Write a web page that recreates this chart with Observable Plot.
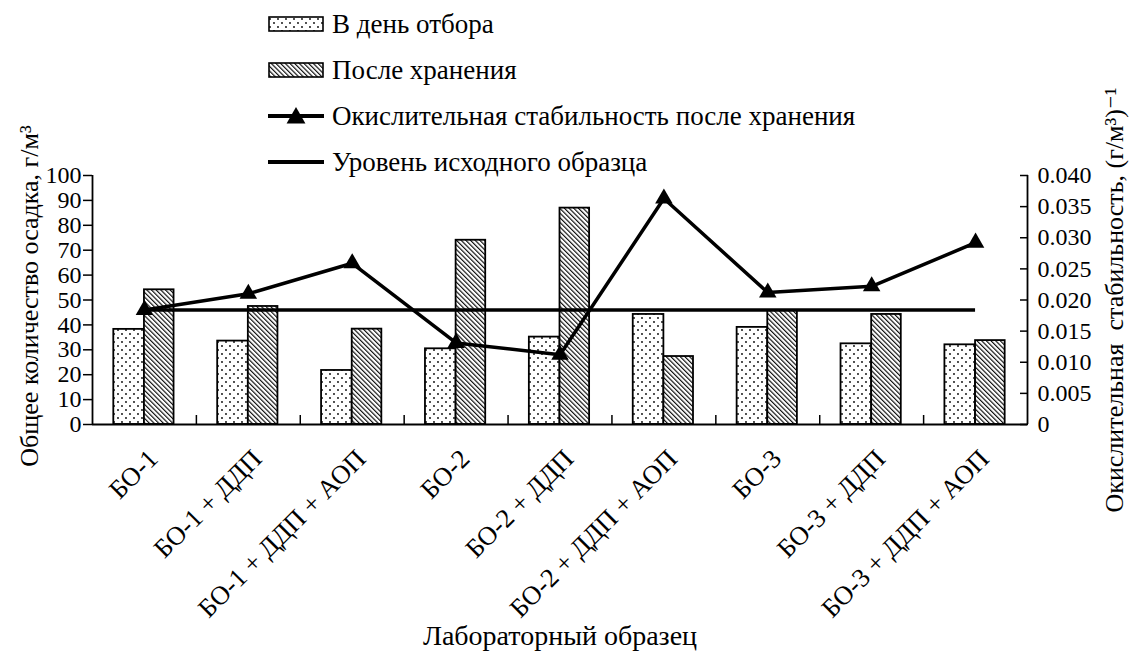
<!DOCTYPE html>
<html>
<head>
<meta charset="utf-8">
<script src="https://cdn.jsdelivr.net/npm/d3@7"></script>
<script src="https://cdn.jsdelivr.net/npm/@observablehq/plot@0.6"></script>
<style>
  html, body { margin: 0; padding: 0; background: white; }
  #wrap { width: 1131px; height: 652px; position: relative; overflow: hidden; font-family: "Liberation Serif", LiberationSerif, Tinos, "DejaVu Serif", serif; color: black; }
  #legend { position: relative; width: 1131px; height: 172px; }
  .row { position: absolute; left: 268px; height: 46px; display: flex; align-items: center; font-size: 27px; white-space: nowrap; }
  .row svg { flex: none; }
  .row span { margin-left: 8px; }
  #chart svg { display: block; }
  #chart svg text { white-space: pre; }
</style>
</head>
<body>
<svg width="0" height="0" style="position:absolute">
  <defs>
    <pattern id="dots" patternUnits="userSpaceOnUse" width="8" height="8">
      <rect width="8" height="8" fill="white"></rect>
      <circle cx="2" cy="2" r="0.9" fill="black"></circle>
      <circle cx="6" cy="6" r="0.9" fill="black"></circle>
    </pattern>
    <pattern id="hatch" patternUnits="userSpaceOnUse" width="3.3" height="10" patternTransform="rotate(-45)">
      <rect width="3.3" height="10" fill="white"></rect>
      <line x1="0.6" y1="0" x2="0.6" y2="10" stroke="black" stroke-width="1.1"></line>
    </pattern>
  </defs>
</svg>
<div id="wrap">
  <div id="legend"></div>
  <div id="chart"></div>
</div>
<script>
// ---- data ----
const categories = ["БО-1", "БО-1 + ДДП", "БО-1 + ДДП + АОП", "БО-2", "БО-2 + ДДП", "БО-2 + ДДП + АОП", "БО-3", "БО-3 + ДДП", "БО-3 + ДДП + АОП"];
const dayOfSampling = [38.2, 33.5, 21.7, 30.4, 35.1, 44.2, 39.0, 32.4, 32.0];
const afterStorage = [54.1, 47.4, 38.3, 74.0, 86.9, 27.3, 45.8, 44.2, 33.7];
const stability = [0.0184, 0.0210, 0.0259, 0.0131, 0.0112, 0.0363, 0.0212, 0.0222, 0.0292];
const initialLevel = 0.0184;
const leftTicks = [0, 10, 20, 30, 40, 50, 60, 70, 80, 90, 100];
const rightTicks = [0, 0.005, 0.010, 0.015, 0.020, 0.025, 0.030, 0.035, 0.040];
const rightTickLabels = ["0", "0.005", "0.010", "0.015", "0.020", "0.025", "0.030", "0.035", "0.040"];
const legendLabels = ["В день отбора", "После хранения", "Окислительная стабильность после хранения", "Уровень исходного образца"];
const yTitle = "Общее количество осадка, г/м³";
const y2Title = "Окислительная  стабильность, (г/м³)⁻¹";
const xTitle = "Лабораторный образец";

// ---- legend ----
const legendCenters = [24, 70, 116, 162];
const legend = d3.select("#legend");
const triPath = d3.symbol().type(d3.symbolTriangle).size(Math.PI * 7 * 7)();
legendLabels.forEach((label, k) => {
  const row = legend.append("div").attr("class", "row").style("top", (legendCenters[k] - 23) + "px");
  const s = row.append("svg").attr("width", 56).attr("height", 46);
  if (k < 2) {
    s.append("rect").attr("x", 1).attr("y", 16).attr("width", 54).attr("height", 14)
      .attr("fill", k === 0 ? "url(#dots)" : "url(#hatch)").attr("stroke", "black").attr("stroke-width", 1.6);
  } else {
    s.append("line").attr("x1", 0).attr("x2", 56).attr("y1", 23).attr("y2", 23).attr("stroke", "black").attr("stroke-width", 4);
    if (k === 2) s.append("path").attr("d", triPath).attr("transform", "translate(28,25)").attr("fill", "black");
  }
  row.append("span").text(label);
});

// ---- chart ----
const FONT = "Liberation Serif, LiberationSerif, Tinos, DejaVu Serif, serif";
const idx = categories.map((_, i) => i);
const k = 100 / 0.040; // right-axis units -> left-axis units
const bounds = idx.slice(0, -1).map(i => i + 0.5);

const chart = Plot.plot({
  width: 1131,
  height: 480,
  marginTop: 3,
  marginBottom: 228,
  marginLeft: 92,
  marginRight: 104,
  x: {type: "linear", domain: [-0.5, categories.length - 0.5]},
  y: {domain: [0, 100]},
  style: {fontFamily: FONT, color: "black", background: "white", overflow: "visible"},
  marks: [
    Plot.rectY(idx, {x1: i => i - 0.295, x2: i => i, y: i => dayOfSampling[i], fill: "url(#dots)", stroke: "black", strokeWidth: 1.8}),
    Plot.rectY(idx, {x1: i => i, x2: i => i + 0.285, y: i => afterStorage[i], fill: "url(#hatch)", stroke: "black", strokeWidth: 1.8}),
    Plot.ruleY([initialLevel * k], {x1: 0, x2: categories.length - 1, stroke: "black", strokeWidth: 3.5}),
    Plot.line(idx, {x: i => i, y: i => stability[i] * k, stroke: "black", strokeWidth: 3.5}),
    Plot.dot(idx, {x: i => i, y: i => stability[i] * k, symbol: "triangle", r: 6.5, fill: "black", stroke: null}),
    Plot.ruleX([-0.5, categories.length - 0.5], {stroke: "black", strokeWidth: 1.8}),
    Plot.ruleY([0], {stroke: "black", strokeWidth: 1.8}),
    Plot.axisY(leftTicks, {anchor: "left", tickSize: 9, tickPadding: 2, fontSize: 24, fontFamily: FONT, label: null, strokeWidth: 1.5}),
    Plot.axisY(rightTicks.map(v => v * k), {anchor: "right", tickSize: -8, tickPadding: 18, fontSize: 24, fontFamily: FONT, label: null, strokeWidth: 1.5,
      tickFormat: d => rightTickLabels[rightTicks.findIndex(v => Math.abs(v * k - d) < 1e-6)]}),
    Plot.axisX(bounds, {anchor: "bottom", tickSize: -9, tickFormat: () => "", label: null, strokeWidth: 1.5}),
    Plot.text(idx, {x: i => i, text: i => categories[i], frameAnchor: "bottom", rotate: -45, textAnchor: "end", lineAnchor: "bottom", dx: 15, dy: 36, fontSize: 26.5, fontFamily: FONT}),
    Plot.text([yTitle], {frameAnchor: "left", textAnchor: "middle", rotate: -90, dx: -63, dy: -4, lineAnchor: "middle", fontSize: 26, fontFamily: FONT}),
    Plot.text([y2Title], {frameAnchor: "right", textAnchor: "middle", rotate: -90, dx: 87, dy: 0, lineAnchor: "middle", fontSize: 26, fontFamily: FONT}),
    Plot.text([xTitle], {frameAnchor: "bottom", textAnchor: "middle", dy: 212, lineAnchor: "middle", fontSize: 28, fontFamily: FONT})
  ]
});
document.getElementById("chart").appendChild(chart);
</script>
</body>
</html>
